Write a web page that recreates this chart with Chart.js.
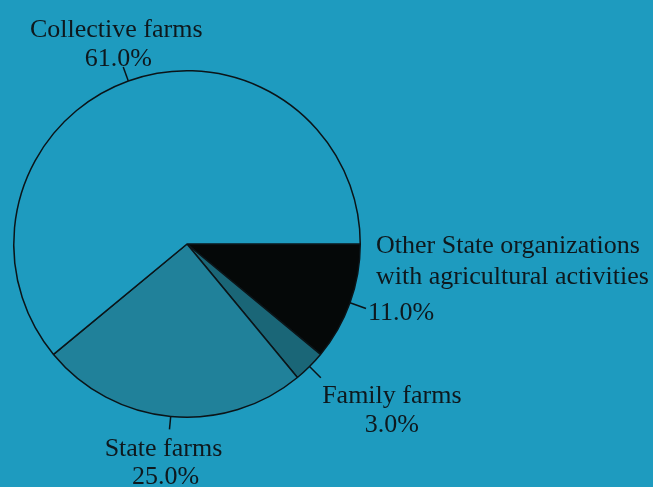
<!DOCTYPE html>
<html>
<head>
<meta charset="utf-8">
<title>Farm types</title>
<script src="https://cdn.jsdelivr.net/npm/chart.js@4"></script>
<style>
  html, body { margin: 0; padding: 0; background: #1e9bbf; }
  #wrap { width: 653px; height: 487px; position: relative; }
</style>
</head>
<body>
<div id="wrap"><canvas id="pieChart" width="653" height="487"></canvas></div>
<script>
// --- data ---
const categories = ['Other State organizations|with agricultural activities', 'Family farms', 'State farms', 'Collective farms'];
const shares = [11.0, 3.0, 25.0, 61.0];
const sliceColors = ['#050808', '#1a6677', '#20819a', '#1e9bbf'];

// where each label line sits relative to the end of its leader tick
const labelStyle = [
    { tick: 17, align: 'left',   lineX: [10, 10, 2], lineY: [-62, -31, 5] },
    { tick: 16, align: 'center', lineX: [71, 71],    lineY: [18, 47] },
    { tick: 13, align: 'center', lineX: [-6, -4],    lineY: [20, 48] },
    { tick: 15, align: 'center', lineX: [-7, -5],    lineY: [-37, -8] }
];

const leaderLabels = {
    id: 'leaderLabels',
    afterDatasetsDraw(chart) {
        const ctx = chart.ctx;
        const arcs = chart.getDatasetMeta(0).data;
        ctx.save();
        ctx.strokeStyle = '#0b1418';
        ctx.lineWidth = 1.5;
        ctx.fillStyle = '#0e181d';
        ctx.font = '26px "Liberation Serif", "DejaVu Serif", serif';
        ctx.textBaseline = 'middle';
        arcs.forEach((arc, i) => {
            const st = labelStyle[i];
            const mid = (arc.startAngle + arc.endAngle) / 2;
            const r = arc.outerRadius;
            const x0 = arc.x + Math.cos(mid) * r;
            const y0 = arc.y + Math.sin(mid) * r;
            const x1 = arc.x + Math.cos(mid) * (r + st.tick);
            const y1 = arc.y + Math.sin(mid) * (r + st.tick);
            ctx.beginPath();
            ctx.moveTo(x0, y0);
            ctx.lineTo(x1, y1);
            ctx.stroke();
            const lines = categories[i].split('|').concat([shares[i].toFixed(1) + '%']);
            ctx.textAlign = st.align;
            lines.forEach((t, k) => ctx.fillText(t, x1 + st.lineX[k], y1 + st.lineY[k]));
        });
        ctx.restore();
    }
};

new Chart(document.getElementById('pieChart'), {
    type: 'pie',
    data: {
        labels: categories,
        datasets: [{
            data: shares,
            backgroundColor: sliceColors,
            borderColor: '#0b1418',
            borderWidth: 1.5
        }]
    },
    options: {
        responsive: false,
        animation: false,
        rotation: 90,
        layout: { padding: { left: 12, right: 291, top: 70, bottom: 69 } },
        plugins: {
            legend: { display: false },
            tooltip: { enabled: false }
        }
    },
    plugins: [leaderLabels]
});
</script>
</body>
</html>
